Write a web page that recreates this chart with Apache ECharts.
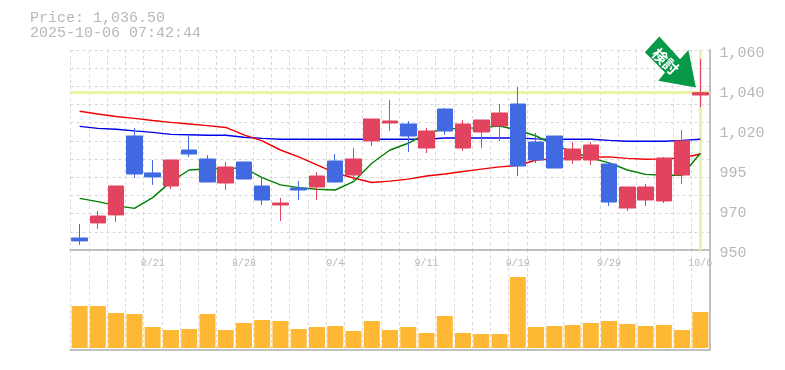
<!DOCTYPE html>
<html>
<head>
<meta charset="utf-8">
<style>html,body{margin:0;padding:0;background:#fff}#c{width:785px;height:370px}</style>
<script src="https://cdn.jsdelivr.net/npm/echarts@6/dist/echarts.min.js"></script>
</head>
<body>
<div id="c"></div>
<script>
const categories = ['8/15','8/18','8/19','8/20','8/21','8/22','8/25','8/26','8/27','8/28','8/29','9/1','9/2','9/3','9/4','9/5','9/8','9/9','9/10','9/11','9/12','9/16','9/17','9/18','9/19','9/22','9/24','9/25','9/26','9/29','9/30','10/1','10/2','10/3','10/6'];
const opens  = [956.6,964.9,969.3,1012.7,992.4,985.2,1005,1000.05,986.85,998.4,985.2,974.75,984.1,984.65,998.95,991.25,1010,1019.85,1019.3,1006.1,1027.55,1006.1,1014.9,1018.2,1030.3,1009.4,1012.7,999.5,999.5,997.3,973.1,977.5,976.95,991.25,1035.25];
const closes = [955,968.7,985.2,991.8,990.2,999.5,1002.8,987.4,995.65,989.05,977.5,975.85,983,990.7,987.4,1000.05,1022.05,1020.95,1012.7,1015.45,1015.45,1019.3,1021.5,1025.35,996.2,999.5,995.1,1005.55,1007.75,976.4,984.65,984.65,1000.6,1010,1036.5];
const lows   = [952.8,961.6,965.4,989.6,985.8,983.6,1001.2,987.4,983,989.05,974.75,965.95,977.5,977.5,986.85,988.5,1007.2,1015.45,1003.9,1003.35,1013.25,1004.45,1006.1,1009.95,990.7,997.85,995.1,997.3,996.75,974.2,971.45,974.2,975.85,986.3,1028.65];
const highs  = [964.3,971.5,985.2,1017.1,999.5,999.5,1013.8,1002.25,998.4,998.4,989.6,978.6,987.95,992.9,1002.8,1006.1,1022.05,1032.5,1020.95,1017.1,1028.1,1021.5,1021.5,1030.3,1039.65,1014.35,1012.7,1009.4,1009.4,998.4,984.65,986.3,1001.15,1016,1055.05];
const maRed   = [1026.3,1024.8,1023.4,1022.4,1021.2,1020.2,1019.3,1018.4,1017.4,1013.3,1010,1005,1001.2,996.8,992.4,989.6,987.1,987.9,989,990.7,991.8,993.2,994.5,995.7,996.5,999.5,1000.1,1000.6,1001,1001.2,1000.4,999.9,1000.1,1000.6,1002.8];
const maBlue  = [1018,1016.9,1016.4,1015.5,1014.7,1013.6,1013.4,1013.1,1013.1,1012,1011.4,1010.9,1010.9,1010.9,1010.9,1010.9,1010.9,1010.9,1010.9,1010.9,1011.6,1011.6,1011.6,1011.6,1011.6,1011.1,1010.9,1010.9,1010.9,1010.3,1009.8,1009.8,1009.8,1010.3,1010.9];
const maGreen = [978.4,976.6,974.4,972.9,978.8,987.6,994,994.7,994.9,995.1,989.8,985.8,984.3,983.4,983,987.6,997.7,1005,1008.7,1014.2,1016.6,1016.9,1017.3,1018.2,1016,1012.7,1007.8,1003.9,1000.6,997.9,994,991.6,991.1,991.1,1003.2];
const volumes = [42,42,35,34,21,18,19,34,18,25,28,27,19,21,22,17,27,18,21,15,32,15,14,14,71,21,22,23,25,27,24,22,23,18,36];
const priceTicks = [950,972,994,1016,1038,1060];
const priceTickLabels = ['950','970','995','1,020','1,040','1,060'];
const lastPrice = 1036.5;
const titleLines = ['Price: 1,036.50','2025-10-06 07:42:44'];
const arrowLabel = '検討';

const GREY = '#c0c0c0', TXT = '#b8b8b8', GRID = '#d8d8d8', HI = '#e4f6a6';
const MONO = '"Liberation Mono", monospace';
const candleData = categories.map((_, i) => [opens[i], closes[i], lows[i], highs[i]]);
const dashed = { show: true, lineStyle: { color: GRID, type: [3, 3], width: 1 } };
const ARROW = 'path://M14.3 0 L0 15.6 L20 35.6 L13.3 44 L50.7 50.6 L43.3 13.3 L35 22.6 Z';

const chart = echarts.init(document.getElementById('c'), null, { renderer: 'canvas' });
chart.setOption({
  animation: false,
  backgroundColor: '#fff',
  title: {
    text: titleLines.join('\n'), left: 25, top: 6,
    textStyle: { fontFamily: MONO, fontSize: 15, fontWeight: 'normal', color: TXT, lineHeight: 15 }
  },
  grid: [
    { left: 70.5, top: 50, width: 639, height: 200, show: false },
    { left: 70.5, top: 250, width: 639, height: 100, show: false }
  ],
  xAxis: [
    { type: 'category', gridIndex: 0, data: categories, boundaryGap: true,
      axisLine: { show: true, lineStyle: { color: GREY, width: 2 } },
      axisTick: { show: false },
      splitLine: Object.assign({ interval: 0 }, dashed),
      axisLabel: { show: true, interval: (i) => i % 5 === 4, fontFamily: MONO, fontSize: 10, color: TXT, margin: 8, hideOverlap: false } },
    { type: 'category', gridIndex: 1, data: categories, boundaryGap: true,
      axisLine: { show: true, onZero: false, lineStyle: { color: GREY, width: 2 } },
      axisTick: { show: false }, axisLabel: { show: false },
      splitLine: Object.assign({ interval: 0 }, dashed) }
  ],
  yAxis: [
    { type: 'value', gridIndex: 0, min: 950, max: 1060, interval: 10, position: 'right',
      axisLine: { show: true, onZero: false, lineStyle: { color: GREY, width: 2 } },
      axisTick: { show: false },
      splitLine: dashed,
      axisLabel: { show: true, customValues: priceTicks, margin: 10, fontFamily: MONO, fontSize: 15, color: TXT, showMinLabel: true, showMaxLabel: true,
        verticalAlign: 'top', lineHeight: 7,
        formatter: (v) => priceTickLabels[priceTicks.indexOf(v)] } },
    { type: 'value', gridIndex: 1, min: -2, max: 98, position: 'right',
      axisLine: { show: true, onZero: false, lineStyle: { color: GREY, width: 2 } },
      axisTick: { show: false }, axisLabel: { show: false }, splitLine: { show: false } }
  ],
  series: [
    { type: 'line', name: 'MA long', xAxisIndex: 0, yAxisIndex: 0, data: maBlue, symbol: 'none', z: 3, lineStyle: { color: '#0000ee', width: 1.4 },
      markLine: { silent: true, symbol: 'none', label: { show: false }, animation: false, z: 2,
        lineStyle: { color: HI, width: 3, type: 'solid' },
        data: [{ yAxis: lastPrice }, { xAxis: categories[categories.length - 1] }] } },
    { type: 'line', name: 'MA mid', xAxisIndex: 0, yAxisIndex: 0, data: maRed, symbol: 'none', z: 3, lineStyle: { color: '#f00000', width: 1.4 } },
    { type: 'line', name: 'MA short', xAxisIndex: 0, yAxisIndex: 0, data: maGreen, symbol: 'none', z: 3, lineStyle: { color: '#007f00', width: 1.4 } },
    { type: 'candlestick', name: 'Price', xAxisIndex: 0, yAxisIndex: 0, data: candleData, barWidth: 16, z: 4,
      itemStyle: { color: '#e2435f', color0: '#4169e1', borderColor: '#e2435f', borderColor0: '#4169e1', borderWidth: 1 },
      markPoint: { silent: true, animation: false, z: 6,
        data: [{ coord: [categories[categories.length - 1], highs[highs.length - 1]],
          symbol: ARROW, symbolSize: [51, 51], symbolKeepAspect: false, symbolOffset: [-30, 3],
          itemStyle: { color: '#079848' },
          label: { show: true, position: 'inside', formatter: arrowLabel, color: '#fff', fontSize: 15, fontWeight: 'bold', rotate: -45, fontFamily: '"Noto Sans CJK JP"', offset: [-4, 3] } }] } },
    { type: 'bar', name: 'Volume', xAxisIndex: 1, yAxisIndex: 1, data: volumes, barWidth: 16, z: 4, itemStyle: { color: '#ffb833' } }
  ]
});
</script>
</body>
</html>
